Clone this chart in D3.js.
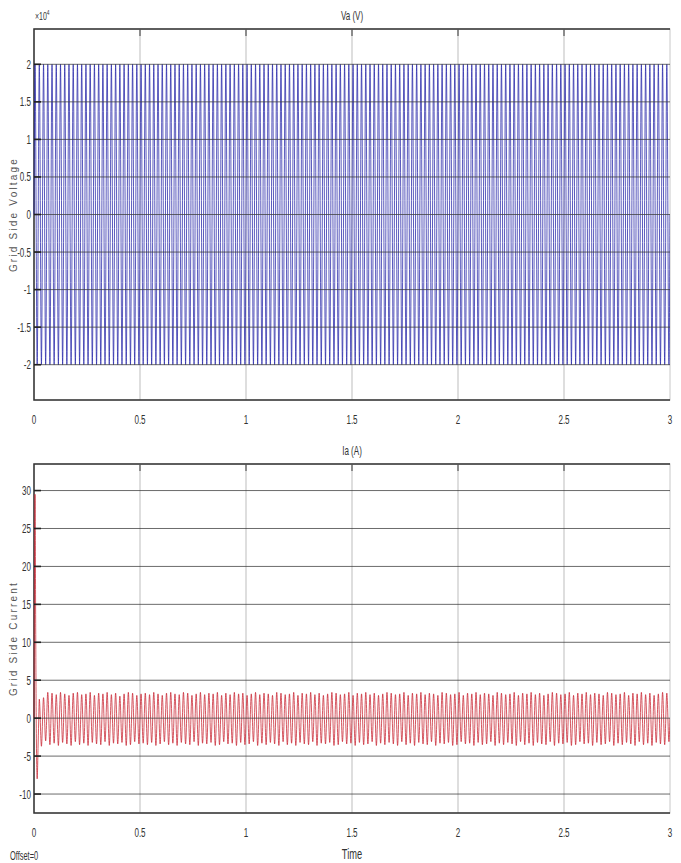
<html>
<script src="https://cdn.jsdelivr.net/npm/d3@7"></script>
<style>
body { margin: 0; background: #fff; }
text { font-family: "Liberation Sans", Arial, sans-serif; fill: #333; }
.ylab { font-size: 10px; letter-spacing: 2.2px; fill: #555; }
</style>
<body></body>
<script>
// axis ticks
var timeTicks = [0, 0.5, 1, 1.5, 2, 2.5, 3];
var timeLabels = ["0", "0.5", "1", "1.5", "2", "2.5", "3"];
var vaTicks = [-2, -1.5, -1, -0.5, 0, 0.5, 1, 1.5, 2];
var iaTicks = [-10, -5, 0, 5, 10, 15, 20, 25, 30];

// one entry per 50 Hz cycle (0.02 s), peak values
var cyclePeriod = 0.02;

// Va, in units of 1e4 V
var vaMax = [
  2,2,2,2,2,2,2,2,2,2,2,2,2,2,2,2,2,2,2,2,2,2,2,2,2,
  2,2,2,2,2,2,2,2,2,2,2,2,2,2,2,2,2,2,2,2,2,2,2,2,2,
  2,2,2,2,2,2,2,2,2,2,2,2,2,2,2,2,2,2,2,2,2,2,2,2,2,
  2,2,2,2,2,2,2,2,2,2,2,2,2,2,2,2,2,2,2,2,2,2,2,2,2,
  2,2,2,2,2,2,2,2,2,2,2,2,2,2,2,2,2,2,2,2,2,2,2,2,2,
  2,2,2,2,2,2,2,2,2,2,2,2,2,2,2,2,2,2,2,2,2,2,2,2,2
];
var vaMin = [
  -2,-2,-2,-2,-2,-2,-2,-2,-2,-2,-2,-2,-2,-2,-2,-2,-2,-2,-2,-2,-2,-2,-2,-2,-2,
  -2,-2,-2,-2,-2,-2,-2,-2,-2,-2,-2,-2,-2,-2,-2,-2,-2,-2,-2,-2,-2,-2,-2,-2,-2,
  -2,-2,-2,-2,-2,-2,-2,-2,-2,-2,-2,-2,-2,-2,-2,-2,-2,-2,-2,-2,-2,-2,-2,-2,-2,
  -2,-2,-2,-2,-2,-2,-2,-2,-2,-2,-2,-2,-2,-2,-2,-2,-2,-2,-2,-2,-2,-2,-2,-2,-2,
  -2,-2,-2,-2,-2,-2,-2,-2,-2,-2,-2,-2,-2,-2,-2,-2,-2,-2,-2,-2,-2,-2,-2,-2,-2,
  -2,-2,-2,-2,-2,-2,-2,-2,-2,-2,-2,-2,-2,-2,-2,-2,-2,-2,-2,-2,-2,-2,-2,-2,-2
];

// Ia start-up transient [time, amps]
var iaStart = [[0, 0], [0.005, 29.5], [0.008, 12], [0.011, -2], [0.015, -8], [0.019, -4], [0.022, -0.5]];
// Ia cycle peaks after the transient (cycle 1 .. 149)
var iaMax = [
  2.5,2.7,3.4,3.3,3.1,3.4,3.2,3.0,3.3,3.4,3.1,3.2,3.4,3.0,3.3,3.2,3.4,3.1,3.3,2.9,3.2,3.4,3.3,3.0,3.2,
  3.3,3.1,3.4,3.2,3.0,3.3,3.4,3.2,3.1,3.4,3.3,3.0,3.2,3.4,3.1,3.3,3.2,3.4,3.0,3.3,3.1,3.4,3.2,3.3,3.0,
  3.2,3.4,3.1,3.3,3.2,3.0,3.4,3.3,3.1,3.2,3.4,3.0,3.3,3.2,3.4,3.1,3.3,3.0,3.2,3.4,3.3,3.1,3.2,3.4,3.0,
  3.3,3.2,3.4,3.1,3.3,3.0,3.2,3.4,3.3,3.1,3.2,3.4,3.0,3.3,3.2,3.4,3.1,3.3,3.2,3.0,3.4,3.3,3.1,3.2,3.4,
  3.0,3.3,3.2,3.4,3.1,3.3,3.2,3.0,3.4,3.3,3.1,3.2,3.4,3.0,3.3,3.2,3.4,3.1,3.3,3.0,3.2,3.4,3.3,3.1,3.2,
  3.4,3.0,3.3,3.2,3.4,3.1,3.3,3.2,3.0,3.4,3.3,3.1,3.2,3.4,3.0,3.3,3.2,3.4,3.1,3.3,3.0,3.2,3.4,3.3
];
var iaMin = [
  -3.7,-3.0,-3.5,-3.3,-3.6,-3.2,-3.4,-3.6,-3.1,-3.5,-3.3,-3.6,-3.2,-3.4,-3.5,-3.1,-3.6,-3.3,-3.4,-3.2,-3.6,-3.5,-3.1,-3.4,-3.3,
  -3.5,-3.2,-3.6,-3.4,-3.1,-3.5,-3.3,-3.6,-3.2,-3.4,-3.5,-3.1,-3.6,-3.3,-3.4,-3.2,-3.6,-3.5,-3.1,-3.4,-3.3,-3.6,-3.2,-3.5,-3.4,
  -3.1,-3.6,-3.3,-3.5,-3.2,-3.4,-3.6,-3.1,-3.5,-3.3,-3.6,-3.2,-3.4,-3.5,-3.1,-3.6,-3.3,-3.4,-3.2,-3.6,-3.5,-3.1,-3.4,-3.3,-3.6,
  -3.2,-3.5,-3.4,-3.1,-3.6,-3.3,-3.5,-3.2,-3.4,-3.6,-3.1,-3.5,-3.3,-3.6,-3.2,-3.4,-3.5,-3.1,-3.6,-3.3,-3.4,-3.2,-3.6,-3.5,-3.1,
  -3.4,-3.3,-3.6,-3.2,-3.5,-3.4,-3.1,-3.6,-3.3,-3.5,-3.2,-3.4,-3.6,-3.1,-3.5,-3.3,-3.6,-3.2,-3.4,-3.5,-3.1,-3.6,-3.3,-3.4,-3.2,
  -3.6,-3.5,-3.1,-3.4,-3.3,-3.6,-3.2,-3.5,-3.4,-3.1,-3.6,-3.3,-3.5,-3.2,-3.4,-3.6,-3.1,-3.5,-3.3,-3.6,-3.2,-3.4,-3.5,-3.1
];

var W = 681, H = 863;
var svg = d3.select("body").append("svg").attr("width", W).attr("height", H);

var x = d3.scaleLinear().domain([0, 3]).range([34, 670]);

// build the wave points from the per-cycle peaks
function wavePoints(start, maxs, mins, firstCycle) {
  var pts = start.slice();
  for (var i = 0; i < maxs.length; i++) {
    var t0 = (i + firstCycle) * cyclePeriod;
    pts.push([t0 + cyclePeriod / 4, maxs[i]]);
    pts.push([t0 + cyclePeriod * 3 / 4, mins[i]]);
  }
  pts.push([3, 0]);
  return pts;
}

// narrow scope-style label
function narrow(sel, px, py, size, anchor, str) {
  return sel.append("text")
    .attr("transform", "translate(" + px + "," + py + ") scale(0.62,1)")
    .attr("text-anchor", anchor)
    .style("font-size", size + "px")
    .text(str);
}

function panel(id, top, bottom, domain, ticks, title, ylabel, pts, color) {
  var y = d3.scaleLinear().domain(domain).range([bottom, top]);
  var g = svg.append("g");

  g.append("clipPath").attr("id", id)
    .append("rect").attr("x", 33).attr("y", top).attr("width", 637).attr("height", bottom - top);

  // vertical grid
  g.selectAll(".vg").data(timeTicks.slice(1, -1)).enter().append("line")
    .attr("x1", d => x(d)).attr("x2", d => x(d))
    .attr("y1", top).attr("y2", bottom)
    .attr("stroke", "#bdbdbd").attr("stroke-width", 1);

  // frame
  g.append("rect").attr("x", 34).attr("y", top).attr("width", 636).attr("height", bottom - top)
    .attr("fill", "none").attr("stroke", "#c8c8c8").attr("stroke-width", 1);
  g.append("path")
    .attr("d", "M670," + top + "H34V" + bottom + "H670")
    .attr("fill", "none").attr("stroke", "#333").attr("stroke-width", 1.5);

  var line = d3.line().x(d => x(d[0])).y(d => y(d[1])).curve(d3.curveMonotoneX);
  g.append("path").datum(pts)
    .attr("clip-path", "url(#" + id + ")")
    .attr("d", line)
    .attr("fill", "none")
    .attr("stroke", color)
    .attr("stroke-opacity", 0.85)
    .attr("stroke-width", 0.9);

  // horizontal grid
  g.selectAll(".hg").data(ticks).enter().append("line")
    .attr("x1", 34).attr("x2", 670)
    .attr("y1", d => y(d)).attr("y2", d => y(d))
    .attr("stroke", "#3a3a3a").attr("stroke-opacity", 0.75).attr("stroke-width", 1);

  // tick marks
  g.selectAll(".yt").data(ticks).enter().append("line")
    .attr("x1", 34).attr("x2", 41)
    .attr("y1", d => y(d)).attr("y2", d => y(d))
    .attr("stroke", "#222").attr("stroke-width", 1.6);
  g.selectAll(".xt").data(timeTicks.slice(1, -1)).enter().append("line")
    .attr("x1", d => x(d)).attr("x2", d => x(d))
    .attr("y1", top).attr("y2", top + 7)
    .attr("stroke", "#555").attr("stroke-width", 1.2);

  // tick labels
  ticks.forEach(function (d) {
    narrow(g, 31, y(d) + 4.5, 13, "end", String(d));
  });
  timeTicks.forEach(function (d, i) {
    narrow(g, x(d), bottom + 24, 13, "middle", timeLabels[i]);
  });

  narrow(g, 352, top - 9, 13, "middle", title);

  g.append("text").attr("class", "ylab")
    .attr("transform", "translate(17," + ((top + bottom) / 2) + ") rotate(-90)")
    .attr("text-anchor", "middle").text(ylabel);
  return g;
}

panel("c1", 29, 400, [-2.47, 2.47], vaTicks, "Va (V)", "Grid Side Voltage",
  wavePoints([[0, 0]], vaMax, vaMin, 0), "#2626a8");
panel("c2", 464, 813, [-12.5, 33.5], iaTicks, "Ia (A)", "Grid Side Current",
  wavePoints(iaStart, iaMax, iaMin, 1), "#c82430");

// exponent label
var ex = svg.append("text").attr("transform", "translate(35,20) scale(0.7,1)").style("font-size", "10px");
ex.append("tspan").text("\u00d710");
ex.append("tspan").attr("dy", -5).style("font-size", "7px").text("4");

narrow(svg, 352, 859, 15, "middle", "Time");
narrow(svg, 10, 860, 12, "start", "Offset=0");
</script>
</html>
